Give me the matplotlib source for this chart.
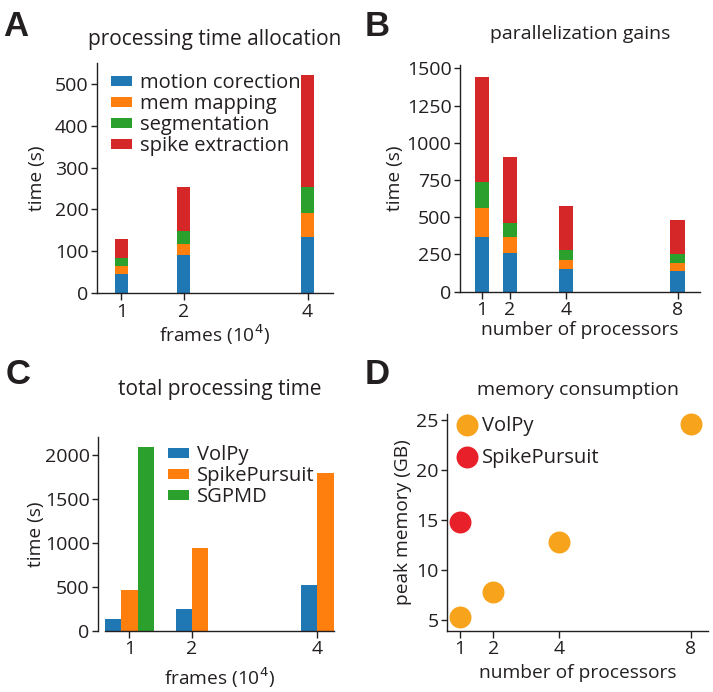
# -*- coding: utf-8 -*-
"""
Processing time / parallelization / memory figure (panels A-D)
"""

import matplotlib
matplotlib.use("Agg")
import matplotlib.pyplot as plt

# ---- data -------------------------------------------------------------
# A: processing time allocation per step, frames (10^4)
frames = [1, 2, 4]
steps = ["motion corection", "mem mapping", "segmentation", "spike extraction"]
motion_a = [46, 91, 135]
memmap_a = [20, 26, 57]
segment_a = [17, 32, 62]
spike_a = [46, 104, 267]

# B: parallelization gains
procs = [1, 2, 4, 8]
motion_b = [365, 257, 150, 141]
memmap_b = [199, 112, 65, 52]
segment_b = [170, 94, 63, 60]
spike_b = [705, 439, 300, 231]

# C: total processing time
volpy_c = [129, 253, 521]
spikepursuit_c = [468, 947, 1798]
sgpmd_frames = [1]
sgpmd_c = [2095]

# D: memory consumption
volpy_procs = [1, 2, 4, 8]
volpy_mem = [5.3, 7.85, 12.8, 24.6]
sp_procs = [1]
sp_mem = [14.85]

step_colors = ["#1f77b4", "#ff7f0e", "#2ca02c", "#d62728"]

plt.rcParams["font.family"] = ["Open Sans", "DejaVu Sans"]
plt.rcParams["font.size"] = 14
plt.rcParams["axes.labelsize"] = 13.8
plt.rcParams["legend.fontsize"] = 14.5
plt.rcParams["axes.linewidth"] = 1.0
plt.rcParams["xtick.major.width"] = 1.0
plt.rcParams["ytick.major.width"] = 1.0
plt.rcParams["xtick.major.size"] = 5
plt.rcParams["ytick.major.size"] = 4
plt.rcParams["xtick.major.pad"] = 2
plt.rcParams["ytick.major.pad"] = 2
plt.rcParams["text.color"] = "#231f20"
plt.rcParams["axes.labelcolor"] = "#231f20"
plt.rcParams["xtick.color"] = "#231f20"
plt.rcParams["ytick.color"] = "#231f20"
plt.rcParams["axes.edgecolor"] = "#231f20"

fig = plt.figure(figsize=(7.13, 6.92), dpi=100)


def clean(ax):
    ax.spines["top"].set_visible(False)
    ax.spines["right"].set_visible(False)


def stacked(ax, x, parts, width):
    bottom = [0] * len(x)
    for vals, col in zip(parts, step_colors):
        ax.bar(x, vals, width, bottom=bottom, color=col)
        bottom = [b + v for b, v in zip(bottom, vals)]


# ---- A ----------------------------------------------------------------
ax = fig.add_axes([0.1356, 0.5762, 0.3314, 0.333])
stacked(ax, frames, [motion_a, memmap_a, segment_a, spike_a], 0.22)
ax.set_xlim(0.6, 4.41)
ax.set_ylim(0, 550)
ax.set_xticks(frames)
ax.set_yticks([0, 100, 200, 300, 400, 500])
ax.set_xlabel("frames (10$^4$)", labelpad=1)
ax.set_ylabel("time (s)", labelpad=6)
ax.set_title("processing time allocation", pad=13, fontsize=15)
ax.legend(steps, loc="upper left", frameon=False, handlelength=1.0,
          handleheight=0.4, handletextpad=0.4, labelspacing=0.05,
          borderaxespad=0.1, bbox_to_anchor=(0.02, 1.0))
clean(ax)

# ---- B ----------------------------------------------------------------
ax = fig.add_axes([0.645, 0.5785, 0.337, 0.3275])
stacked(ax, procs, [motion_b, memmap_b, segment_b, spike_b], 0.51)
ax.set_xlim(0.2, 8.81)
ax.set_ylim(0, 1522)
ax.set_xticks(procs)
ax.set_yticks([0, 250, 500, 750, 1000, 1250, 1500])
ax.set_xlabel("number of processors", labelpad=1)
ax.set_ylabel("time (s)", labelpad=2)
ax.set_title("parallelization gains", pad=19, fontsize=14)
clean(ax)

# ---- C ----------------------------------------------------------------
w = 0.26
ax = fig.add_axes([0.1473, 0.0886, 0.3207, 0.28])
x1 = [f - w / 2 for f in frames]
x1[0] = frames[0] - w
x2 = [f + w / 2 for f in frames]
x2[0] = frames[0]
ax.bar(x1, volpy_c, w, color=step_colors[0], label="VolPy")
ax.bar(x2, spikepursuit_c, w, color=step_colors[1], label="SpikePursuit")
ax.bar([f + w for f in sgpmd_frames], sgpmd_c, w, color=step_colors[2], label="SGPMD")
ax.set_xlim(1 - 1.5 * w, 4 + w)
ax.set_ylim(0, 2210)
ax.set_xticks(frames)
ax.set_yticks([0, 500, 1000, 1500, 2000])
ax.spines["left"].set_position(("outward", 5))
ax.set_xlabel("frames (10$^4$)", labelpad=5)
ax.set_ylabel("time (s)", labelpad=0)
ax.set_title("total processing time", pad=30, fontsize=15)
ax.legend(loc="upper right", frameon=False, handlelength=1.0,
          handleheight=0.4, handletextpad=0.4, labelspacing=0.05,
          borderaxespad=0.0, bbox_to_anchor=(0.95, 1.0))
clean(ax)

# ---- D ----------------------------------------------------------------
ax = fig.add_axes([0.627, 0.0886, 0.366, 0.313])
ax.scatter(volpy_procs, volpy_mem, s=250, color="#f8a31c", label="VolPy",
           zorder=3, clip_on=False, linewidths=0)
ax.scatter(sp_procs, sp_mem, s=250, color="#e8202a", label="SpikePursuit",
           zorder=3, clip_on=False, linewidths=0)
ax.set_xlim(0.6, 8.52)
ax.set_ylim(3.95, 25.6)
ax.set_xticks(procs)
ax.set_yticks([5, 10, 15, 20, 25])
ax.set_xlabel("number of processors", labelpad=4)
ax.set_ylabel("peak memory (GB)", labelpad=3)
ax.set_title("memory consumption", pad=14, fontsize=14)
ax.legend(loc="upper left", frameon=False, scatterpoints=1,
          handlelength=1.2, handletextpad=0.15, labelspacing=0.6,
          borderaxespad=0.0, bbox_to_anchor=(0.0, 1.03))
clean(ax)

# panel letters
for lbl, x, y in [("A", 0.004, 0.985), ("B", 0.511, 0.985),
                  ("C", 0.008, 0.483), ("D", 0.511, 0.483)]:
    fig.text(x, y, lbl, fontsize=25, fontweight="bold", va="top",
             family=["Liberation Sans", "DejaVu Sans"])

plt.savefig("out.png", dpi=100)
